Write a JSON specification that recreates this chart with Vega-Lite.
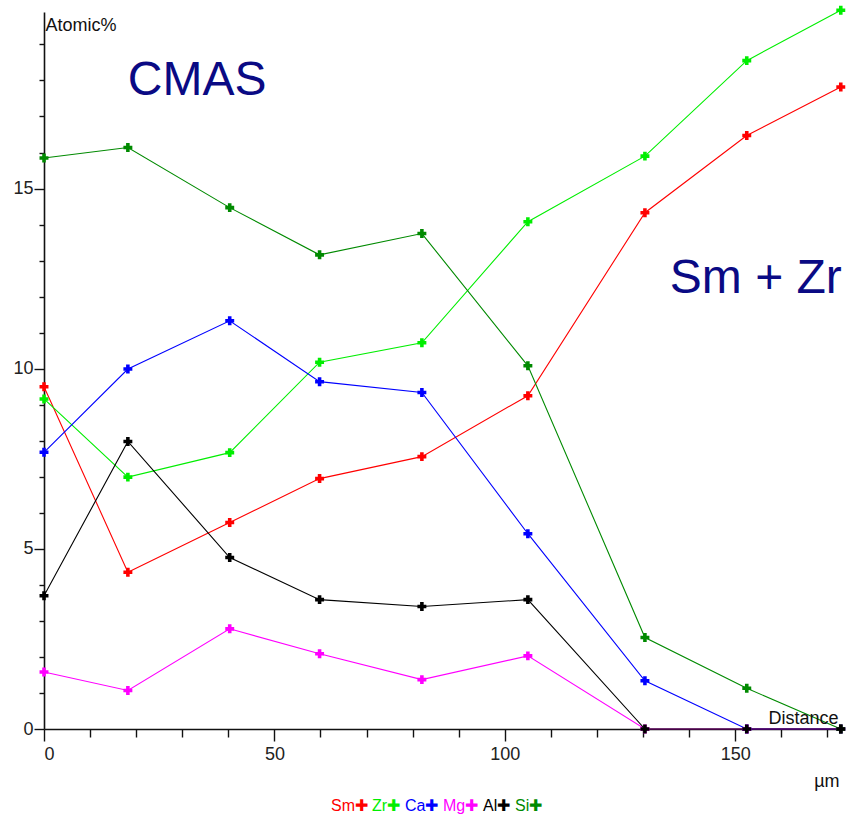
{
  "$schema": "https://vega.github.io/schema/vega-lite/v6.json",
  "width": 800,
  "height": 717,
  "autosize": "none",
  "padding": {"left": 44, "top": 12, "right": 7, "bottom": 90},
  "background": "white",
  "config": {
    "view": {"stroke": null},
    "font": "Arial, Liberation Sans, sans-serif",
    "axis": {
      "grid": false,
      "domainColor": "#111111",
      "tickColor": "#111111",
      "domainWidth": 1.6,
      "tickWidth": 1.4,
      "labelFont": "Arial, Liberation Sans, sans-serif",
      "labelFontSize": 18,
      "labelColor": "#222222",
      "titleFont": "Arial, Liberation Sans, sans-serif",
      "titleFontWeight": "normal",
      "titleFontSize": 18,
      "titleColor": "#111111"
    }
  },
  "data": {
    "values": [
      {"el": "Sm", "d": 0, "v": 9.5},
      {"el": "Sm", "d": 18.2, "v": 4.35},
      {"el": "Sm", "d": 40.3, "v": 5.73},
      {"el": "Sm", "d": 59.8, "v": 6.95},
      {"el": "Sm", "d": 82, "v": 7.56},
      {"el": "Sm", "d": 105, "v": 9.25},
      {"el": "Sm", "d": 130.4, "v": 14.33},
      {"el": "Sm", "d": 152.5, "v": 16.47},
      {"el": "Sm", "d": 172.9, "v": 17.82},
      {"el": "Zr", "d": 0, "v": 9.16},
      {"el": "Zr", "d": 18.2, "v": 6.99},
      {"el": "Zr", "d": 40.3, "v": 7.67},
      {"el": "Zr", "d": 59.8, "v": 10.18},
      {"el": "Zr", "d": 82, "v": 10.72},
      {"el": "Zr", "d": 105, "v": 14.08},
      {"el": "Zr", "d": 130.4, "v": 15.9},
      {"el": "Zr", "d": 152.5, "v": 18.55},
      {"el": "Zr", "d": 172.9, "v": 19.95},
      {"el": "Ca", "d": 0, "v": 7.68},
      {"el": "Ca", "d": 18.2, "v": 9.99},
      {"el": "Ca", "d": 40.3, "v": 11.33},
      {"el": "Ca", "d": 59.8, "v": 9.64},
      {"el": "Ca", "d": 82, "v": 9.34},
      {"el": "Ca", "d": 105, "v": 5.42},
      {"el": "Ca", "d": 130.4, "v": 1.34},
      {"el": "Ca", "d": 152.5, "v": 0},
      {"el": "Ca", "d": 172.9, "v": 0},
      {"el": "Mg", "d": 0, "v": 1.58},
      {"el": "Mg", "d": 18.2, "v": 1.07},
      {"el": "Mg", "d": 40.3, "v": 2.78},
      {"el": "Mg", "d": 59.8, "v": 2.09},
      {"el": "Mg", "d": 82, "v": 1.37},
      {"el": "Mg", "d": 105, "v": 2.03},
      {"el": "Mg", "d": 130.4, "v": 0},
      {"el": "Mg", "d": 152.5, "v": 0},
      {"el": "Mg", "d": 172.9, "v": 0},
      {"el": "Si", "d": 0, "v": 15.85},
      {"el": "Si", "d": 18.2, "v": 16.14},
      {"el": "Si", "d": 40.3, "v": 14.47},
      {"el": "Si", "d": 59.8, "v": 13.16},
      {"el": "Si", "d": 82, "v": 13.75},
      {"el": "Si", "d": 105, "v": 10.08},
      {"el": "Si", "d": 130.4, "v": 2.54},
      {"el": "Si", "d": 152.5, "v": 1.13},
      {"el": "Si", "d": 172.9, "v": 0},
      {"el": "Al", "d": 0, "v": 3.7},
      {"el": "Al", "d": 18.2, "v": 7.98},
      {"el": "Al", "d": 40.3, "v": 4.76},
      {"el": "Al", "d": 59.8, "v": 3.59},
      {"el": "Al", "d": 82, "v": 3.4},
      {"el": "Al", "d": 105, "v": 3.59},
      {"el": "Al", "d": 130.4, "v": 0},
      {"el": "Al", "d": 152.5, "v": 0},
      {"el": "Al", "d": 172.9, "v": 0}
    ]
  },
  "encoding": {
    "x": {
      "field": "d",
      "type": "quantitative",
      "scale": {"domain": [0, 173.6], "nice": false, "zero": false},
      "axis": {
        "values": [0, 10, 20, 30, 40, 50, 60, 70, 80, 90, 100, 110, 120, 130, 140, 150, 160, 170],
        "labelExpr": "datum.value % 50 === 0 ? datum.label : ''",
        "tickSize": {"condition": {"test": "datum.value % 50 === 0", "value": 12}, "value": 8},
        "labelPadding": 4,
        "title": "µm",
        "titleAlign": "right",
        "titleAnchor": "start",
        "titleBaseline": "alphabetic",
        "titleX": 795,
        "titleY": 57
      }
    },
    "y": {
      "field": "v",
      "type": "quantitative",
      "scale": {"domain": [0, 19.9], "nice": false},
      "axis": {
        "values": [0, 1, 2, 3, 4, 5, 6, 7, 8, 9, 10, 11, 12, 13, 14, 15, 16, 17, 18, 19],
        "labelExpr": "datum.value % 5 === 0 ? datum.label : ''",
        "tickSize": {"condition": {"test": "datum.value % 5 === 0", "value": 10}, "value": 5},
        "labelPadding": 1,
        "title": "Atomic%",
        "titleAngle": 0,
        "titleAlign": "left",
        "titleAnchor": "start",
        "titleBaseline": "alphabetic",
        "titleX": 1,
        "titleY": 18
      }
    }
  },
  "layer": [
    {
      "mark": {"type": "line", "strokeWidth": 1.1},
      "encoding": {
        "color": {
          "field": "el",
          "type": "nominal",
          "scale": {
            "domain": ["Sm", "Zr", "Ca", "Mg", "Al", "Si"],
            "range": ["#ff0000", "#00ee00", "#0000ff", "#ff00ff", "#000000", "#008a00"]
          },
          "legend": {
            "orient": "none",
            "legendX": 286,
            "legendY": 786,
            "direction": "horizontal",
            "columns": 6,
            "title": null,
            "symbolType": "circle",
            "symbolSize": 0,
            "symbolStrokeWidth": 0,
            "symbolOpacity": 0,
            "labelOffset": -15,
            "columnPadding": 3,
            "labelFont": "Arial, Liberation Sans, sans-serif",
            "labelFontSize": 16,
            "labelExpr": "datum.label + '✚'",
            "encode": {
              "labels": {"update": {"fill": {"signal": "scale('color', datum.value)"}}}
            }
          }
        }
      }
    },
    {
      "mark": {"type": "point", "shape": "cross", "filled": true, "size": 80, "opacity": 1},
      "encoding": {
        "color": {"field": "el", "type": "nominal"}
      }
    },
    {
      "transform": [{"filter": "datum.el === 'Sm' && datum.d === 0"}],
      "mark": {"type": "text", "text": "CMAS", "fontSize": 48, "fill": "#0a0a84", "align": "left", "baseline": "alphabetic"},
      "encoding": {"x": {"datum": 18.2}, "y": {"datum": 17.6}}
    },
    {
      "transform": [{"filter": "datum.el === 'Sm' && datum.d === 0"}],
      "mark": {"type": "text", "text": "Sm + Zr", "fontSize": 48, "fill": "#0a0a84", "align": "left", "baseline": "alphabetic"},
      "encoding": {"x": {"datum": 135.8}, "y": {"datum": 12.1}}
    },
    {
      "transform": [{"filter": "datum.el === 'Sm' && datum.d === 0"}],
      "mark": {"type": "text", "text": "Distance", "fontSize": 18, "fill": "#111111", "align": "right", "baseline": "alphabetic", "dy": -5},
      "encoding": {"x": {"datum": 172.4}, "y": {"datum": 0}}
    }
  ]
}
